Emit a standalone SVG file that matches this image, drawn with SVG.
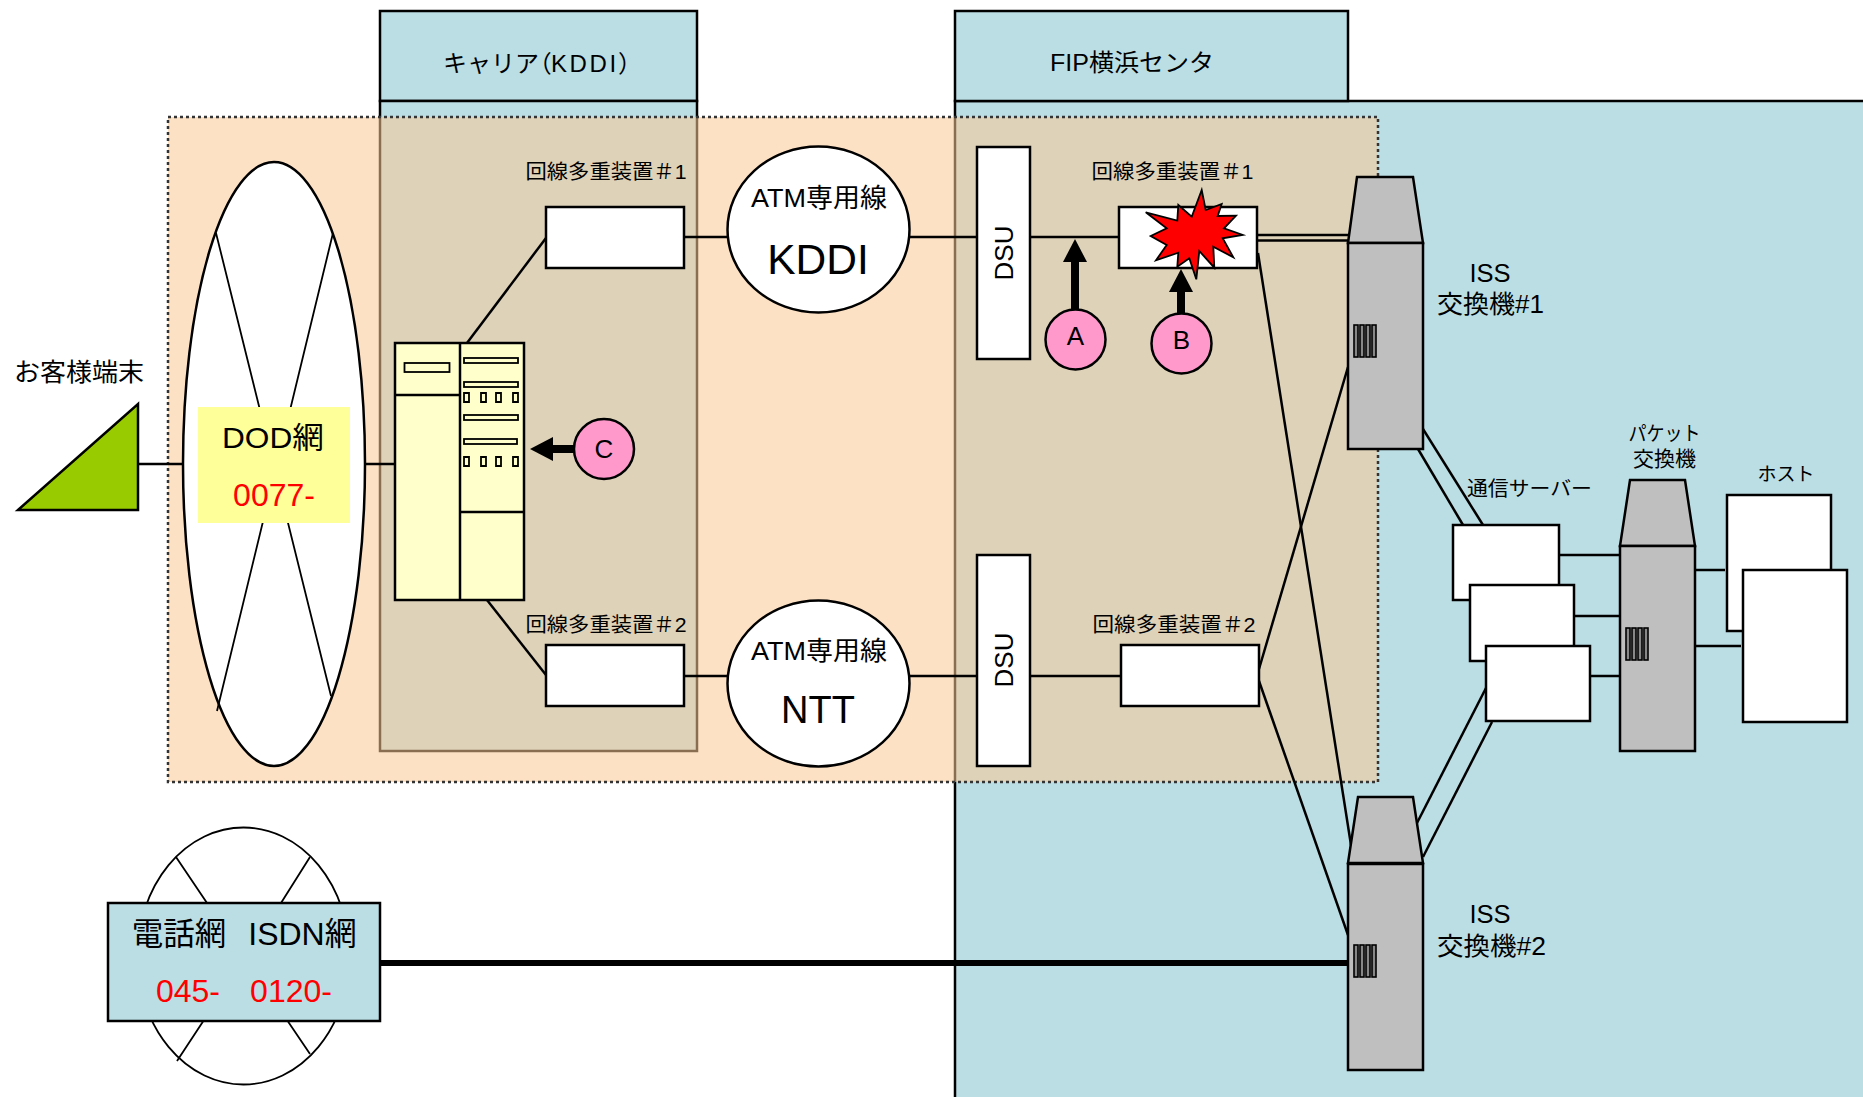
<svg xmlns="http://www.w3.org/2000/svg" width="1863" height="1097" viewBox="0 0 1863 1097">
<style>
text{font-family:"Liberation Sans","Noto Sans CJK JP",sans-serif;fill:#000;text-anchor:middle}
.red{fill:#f00}
.s{stroke:#000;stroke-width:2.5}
.t{stroke:#000;stroke-width:1.8}
.w{fill:#fff}
.blue{fill:#bbdee4}
.gray{fill:#bfbfbf}
.cream{fill:#ffffcc}
.pink{fill:#ff99cc}
.n{fill:none}
.c line{stroke:#000;stroke-width:2.5}
.c .thick{stroke-width:6}
.c .arrow{stroke-width:8}
.bar{fill:#888;stroke:#000;stroke-width:1.6}
.palt{font-feature-settings:"palt"}
</style>
<defs>
<marker id="head" markerUnits="userSpaceOnUse" markerWidth="24" markerHeight="24" refX="0" refY="12" orient="auto"><path d="M0 0L23 12L0 24Z" fill="#000"/></marker>
<g id="bars"><rect class="bar" x="0" y="0" width="4" height="32"/><rect class="bar" x="6" y="0" width="4" height="32"/><rect class="bar" x="12" y="0" width="4" height="32"/><rect class="bar" x="18" y="0" width="4" height="32"/></g>
</defs>
<rect width="1863" height="1097" fill="#fff"/>
<g id="panels">
<path class="blue" d="M955 101H1863V1097H955Z"/>
<path class="n s" d="M1863 101H955V1097"/>
<rect class="blue s" x="955" y="11" width="393" height="90"/>
<rect class="blue s" x="380" y="11" width="317" height="90"/>
<rect class="blue s" x="380" y="101" width="317" height="650"/>
</g>
<rect id="dod-zone" x="168" y="117" width="1210" height="665" fill="#fbc896" fill-opacity="0.55" stroke="#333" stroke-width="2.5" stroke-dasharray="3 3"/>
<g id="header-labels">
<text x="443" y="72" font-size="24" style="text-anchor:start">キャリア<tspan class="palt">（</tspan><tspan letter-spacing="2.600">KDDI</tspan><tspan class="palt">）</tspan></text>
<text x="1132" y="71" font-size="24" textLength="164" lengthAdjust="spacingAndGlyphs">FIP横浜センタ</text>
</g>
<g id="connectors" class="c">
<line x1="138" y1="464" x2="183" y2="464"/>
<line x1="365" y1="464" x2="395" y2="464"/>
<line x1="467" y1="343" x2="546" y2="238"/>
<line x1="487" y1="600" x2="546" y2="675"/>
<line x1="684" y1="237" x2="727" y2="237"/>
<line x1="684" y1="676" x2="727" y2="676"/>
<line x1="909" y1="237" x2="977" y2="237"/>
<line x1="909" y1="676" x2="977" y2="676"/>
<line x1="1030" y1="237" x2="1121" y2="237"/>
<line x1="1030" y1="676" x2="1121" y2="676"/>
<line x1="1257" y1="235" x2="1348" y2="235"/>
<line x1="1257" y1="240.500" x2="1348" y2="240.500"/>
<line x1="1258" y1="253" x2="1351" y2="845"/>
<line x1="1259" y1="669" x2="1348" y2="367"/>
<line x1="1259" y1="681" x2="1348" y2="935"/>
<line x1="1423" y1="429" x2="1483" y2="525"/>
<line x1="1418" y1="449" x2="1463" y2="525"/>
<line x1="1417" y1="823" x2="1486" y2="688"/>
<line x1="1423" y1="857" x2="1492" y2="722"/>
<line x1="1559" y1="555" x2="1620" y2="555"/>
<line x1="1574" y1="616" x2="1620" y2="616"/>
<line x1="1590" y1="676" x2="1620" y2="676"/>
<line x1="1695" y1="570" x2="1725" y2="570"/>
<line x1="1695" y1="646" x2="1741" y2="646"/>
<line class="thick" x1="380" y1="963" x2="1348" y2="963"/>
<line class="arrow" x1="574" y1="449" x2="553" y2="449" marker-end="url(#head)"/>
<line class="arrow" x1="1075" y1="312" x2="1075" y2="262" marker-end="url(#head)"/>
<line class="arrow" x1="1181" y1="316" x2="1181" y2="292" marker-end="url(#head)"/>
</g>
<g id="customer-terminal">
<path d="M18 510L138 404V510Z" fill="#99cc00" class="s"/>
<text x="79" y="381" font-size="24.500" textLength="130" lengthAdjust="spacingAndGlyphs">お客様端末</text>
</g>
<g id="dod-network">
<ellipse class="w s" cx="274" cy="464" rx="91" ry="302"/>
<path class="n t" d="M216 233L331 696M333 233L217 711"/>
<rect x="198" y="407" width="152" height="116" fill="#ffff99"/>
<text x="273" y="448" font-size="30" textLength="102" lengthAdjust="spacingAndGlyphs">DOD網</text>
<text x="274" y="506" font-size="32" class="red">0077-</text>
</g>
<g id="server">
<rect class="cream s" x="395" y="343" width="129" height="257"/>
<path class="n s" d="M460 343V600M395 395H460M460 512H524"/>
<rect class="n t" x="404.500" y="363" width="45" height="9"/>
<rect class="n t" x="464" y="358" width="54" height="5"/>
<rect class="n t" x="464" y="382" width="54" height="5"/>
<rect class="n t" x="464" y="415" width="54" height="5"/>
<rect class="n t" x="464" y="439" width="53" height="5"/>
<path class="n t" d="M464 393h5v9h-5zM481 393h5v9h-5zM496 393h5v9h-5zM513 393h5v9h-5zM464 457h5v9h-5zM481 457h5v9h-5zM496 457h5v9h-5zM513 457h5v9h-5z"/>
</g>
<g id="mux-kddi">
<rect class="w s" x="546" y="207" width="138" height="61"/>
<text x="606" y="179" font-size="20" textLength="161" lengthAdjust="spacingAndGlyphs">回線多重装置＃1</text>
</g>
<g id="mux-ntt">
<rect class="w s" x="546" y="645" width="138" height="61"/>
<text x="606" y="632" font-size="20" textLength="161" lengthAdjust="spacingAndGlyphs">回線多重装置＃2</text>
</g>
<g id="atm-kddi">
<ellipse class="w s" cx="818.500" cy="229.500" rx="91" ry="83"/>
<text x="819" y="207" font-size="26" textLength="136" lengthAdjust="spacingAndGlyphs">ATM専用線</text>
<text x="818" y="274" font-size="42.500">KDDI</text>
</g>
<g id="atm-ntt">
<ellipse class="w s" cx="818.500" cy="683.500" rx="91" ry="83"/>
<text x="819" y="660" font-size="26" textLength="136" lengthAdjust="spacingAndGlyphs">ATM専用線</text>
<text x="818" y="723" font-size="38">NTT</text>
</g>
<g id="dsu-1">
<rect class="w s" x="977" y="147" width="53" height="212"/>
<text transform="translate(1013 253) rotate(-90)" font-size="26">DSU</text>
</g>
<g id="dsu-2">
<rect class="w s" x="977" y="555" width="53" height="211"/>
<text transform="translate(1013 660) rotate(-90)" font-size="26">DSU</text>
</g>
<g id="mux-fip-1">
<rect class="w s" x="1119" y="207" width="138" height="61"/>
<text x="1172.500" y="179" font-size="20" textLength="162" lengthAdjust="spacingAndGlyphs">回線多重装置＃1</text>
</g>
<g id="failure-burst">
<path fill="#f00" class="t" d="M1201.700 190L1205.700 210L1221.700 204L1217.700 216L1236 215.700L1224 228.300L1242.700 235L1222.700 238.300L1233.300 257.300L1213.300 246.700L1214.300 267.700L1199.300 251L1196.300 279.300L1189.300 258.300L1177.300 266.700L1178.300 252.700L1156 260.300L1166.700 245L1150.700 236L1166.700 228.300L1145.700 212.300L1177.300 220.700L1178.300 205L1191.700 216.700Z"/>
</g>
<g id="mux-fip-2">
<rect class="w s" x="1121" y="645" width="138" height="61"/>
<text x="1174" y="632" font-size="20" textLength="163" lengthAdjust="spacingAndGlyphs">回線多重装置＃2</text>
</g>
<g id="marker-a">
<circle class="pink s" cx="1075.500" cy="339.500" r="30"/>
<text x="1075.500" y="345" font-size="26">A</text>
</g>
<g id="marker-b">
<circle class="pink s" cx="1181.500" cy="343.500" r="30"/>
<text x="1181.500" y="349" font-size="26">B</text>
</g>
<g id="marker-c">
<circle class="pink s" cx="604" cy="449" r="30"/>
<text x="604" y="458" font-size="26">C</text>
</g>
<g id="iss-1">
<path class="gray s" d="M1357 177H1413L1423 243H1348Z"/>
<rect class="gray s" x="1348" y="243" width="75" height="206"/>
<use href="#bars" x="1354" y="325"/>
<text x="1490" y="282" font-size="25.500">ISS</text>
<text x="1490.500" y="313" font-size="25.500" textLength="107" lengthAdjust="spacingAndGlyphs">交換機#1</text>
</g>
<g id="iss-2">
<path class="gray s" d="M1358 797H1413L1423 863H1348Z"/>
<rect class="gray s" x="1348" y="864" width="75" height="206"/>
<use href="#bars" x="1354" y="945"/>
<text x="1490" y="923" font-size="25.500">ISS</text>
<text x="1491.500" y="955" font-size="25.500" textLength="109" lengthAdjust="spacingAndGlyphs">交換機#2</text>
</g>
<g id="comm-servers">
<rect class="w s" x="1453" y="525" width="106" height="75"/>
<rect class="w s" x="1470" y="585" width="104" height="76"/>
<rect class="w s" x="1486" y="646" width="104" height="75"/>
<text x="1529.500" y="496" font-size="20" textLength="125" lengthAdjust="spacingAndGlyphs">通信サーバー</text>
</g>
<g id="packet-switch">
<path class="gray s" d="M1630 480H1685L1695 546H1620Z"/>
<rect class="gray s" x="1620" y="546" width="75" height="205"/>
<use href="#bars" x="1626" y="628"/>
<text x="1664.500" y="441" font-size="20" textLength="72" lengthAdjust="spacingAndGlyphs">パケット</text>
<text x="1664.500" y="466" font-size="21">交換機</text>
</g>
<g id="hosts">
<rect class="w s" x="1727" y="495" width="104" height="136"/>
<rect class="w s" x="1743" y="570" width="104" height="152"/>
<text x="1786" y="481" font-size="19">ホスト</text>
</g>
<g id="phone-network">
<ellipse class="w t" cx="243.500" cy="956" rx="106" ry="128.500"/>
<path class="n t" d="M176 857L207 903M310 857L281 903M204 1020L177 1061M287 1020L310 1054"/>
<rect class="blue s" x="108" y="903" width="272" height="118"/>
<text x="179" y="945" font-size="31.500">電話網</text>
<text x="302.500" y="945" font-size="32">ISDN網</text>
<text x="188" y="1002" font-size="32" class="red">045-</text>
<text x="291" y="1002" font-size="32" class="red">0120-</text>
</g>
</svg>
